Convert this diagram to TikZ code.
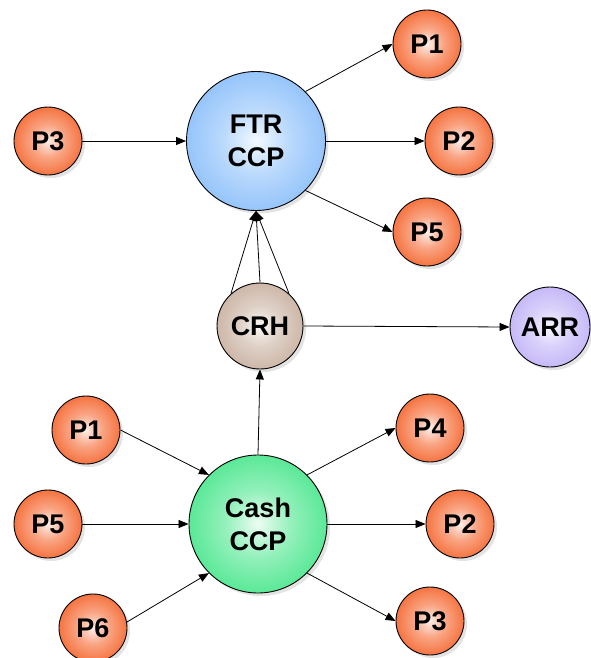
\documentclass[tikz,border=0pt]{standalone}
\usepackage{fontspec}
\setmainfont{Liberation Sans}
\usepackage{tikz}
\usetikzlibrary{arrows.meta,shadows}
\definecolor{pOrange}{RGB}{244,90,30}
\definecolor{pBlue}{RGB}{130,186,250}
\definecolor{pTan}{RGB}{196,170,152}
\definecolor{pLilac}{RGB}{188,172,246}
\definecolor{pGreen}{RGB}{60,228,132}
\colorlet{ballin}{white}
\colorlet{ballout}{gray}
\pgfdeclareradialshading[ballin,ballout]{glow}{\pgfpoint{0bp}{0bp}}{%
  color(0bp)=(ballin); color(12bp)=(ballin!50!ballout);
  color(32bp)=(ballout); color(50bp)=(ballout)}

\begin{document}
\begin{tikzpicture}[x=1pt,y=-1pt,
  ball/.style={circle, draw=black, line width=0.9pt, inner sep=0pt, minimum size=#1,
    align=center, font=\fontsize{27}{33}\selectfont\bfseries, shading=glow,
    drop shadow={shadow xshift=3pt, shadow yshift=-3pt, fill=black!18, opacity=0.6}},
  tint/.code={\colorlet{ballout}{#1}\colorlet{ballin}{#1!10!white}},
  party/.style={ball=68pt, tint=pOrange},
  link/.style={-{Triangle[length=10pt,width=8pt]}, line width=0.8pt}]
\useasboundingbox (0,0) rectangle (590,658);
%
\node[ball=139pt, tint=pBlue] (ftr) at (256,141) {FTR\\CCP};
\node[ball=86pt, tint=pTan] (crh) at (260,326) {CRH};
\node[ball=80pt, tint=pLilac] (arr) at (550,327) {ARR};
\node[ball=138pt, tint=pGreen] (cash) at (258,524) {Cash\\CCP};
%
\node[party] (p3a) at (48,141) {P3};
\node[party] (p1a) at (427,44) {P1};
\node[party] (p2a) at (459,141) {P2};
\node[party] (p5a) at (427,232) {P5};
%
\node[party] (p1b) at (86,430) {P1};
\node[party] (p5b) at (48,524) {P5};
\node[party] (p6b) at (93,628) {P6};
\node[party] (p4b) at (430,428) {P4};
\node[party] (p2b) at (460,524) {P2};
\node[party] (p3b) at (430,621) {P3};
%
\draw[link] (p3a.east) -- (ftr.west);
\draw[link] (ftr.45) -- (p1a.west);
\draw[link] (ftr.east) -- (p2a.west);
\draw[link] (ftr.-45) -- (p5a.west);
%
\draw[link] (crh.132) -- (ftr.south);
\draw[link] (crh.90) -- (ftr.south);
\draw[link] (crh.48) -- (ftr.south);
\draw[link] (crh.east) -- (arr.west);
\draw[link] (cash.north) -- (crh.south);
%
\draw[link] (p1b.east) -- (cash.135);
\draw[link] (p5b.east) -- (cash.west);
\draw[link] (p6b.10) -- (cash.225);
\draw[link] (cash.45) -- (p4b.west);
\draw[link] (cash.east) -- (p2b.west);
\draw[link] (cash.-45) -- (p3b.west);
\end{tikzpicture}
\end{document}
